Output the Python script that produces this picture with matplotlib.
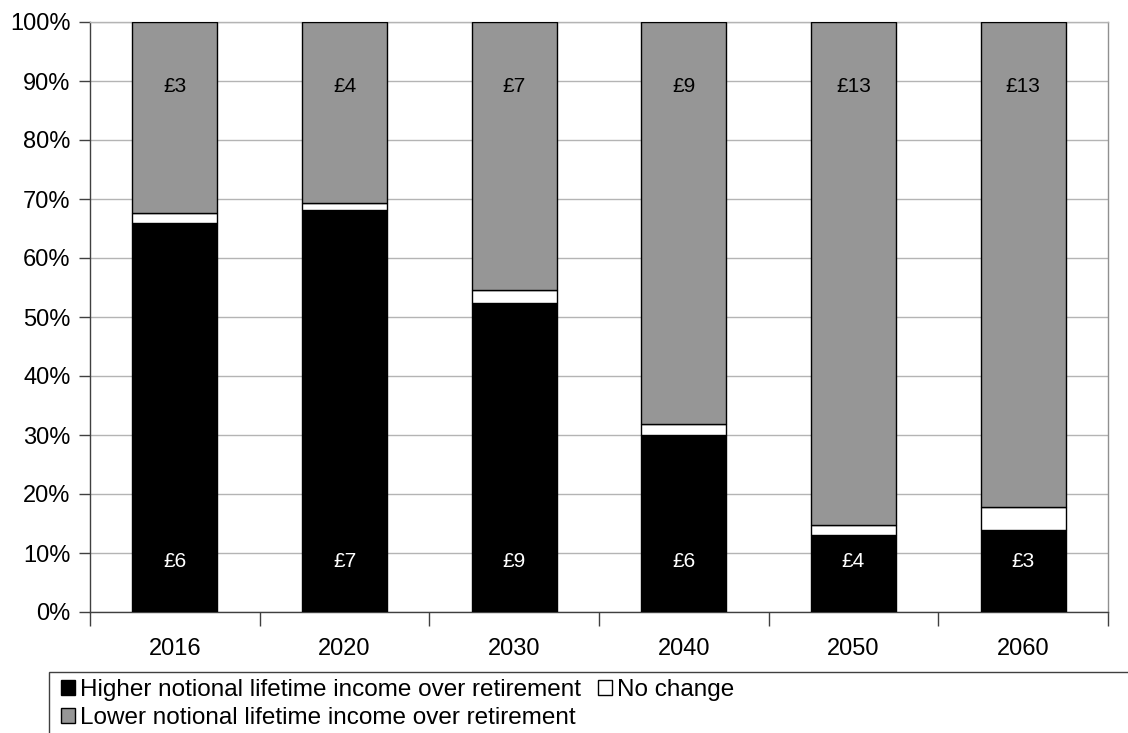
import matplotlib
matplotlib.use("Agg")
import matplotlib.pyplot as plt
from matplotlib.patches import Rectangle, Patch
import numpy as np

years = ["2016", "2020", "2030", "2040", "2050", "2060"]
higher = [66.0, 68.1, 52.3, 30.0, 13.0, 13.9]
no_change = [1.7, 1.2, 2.3, 1.9, 1.7, 3.9]
lower = [100 - h - n for h, n in zip(higher, no_change)]
higher_labels = ["£6", "£7", "£9", "£6", "£4", "£3"]
lower_labels = ["£3", "£4", "£7", "£9", "£13", "£13"]

plt.rcParams['font.family'] = ['Liberation Sans', 'DejaVu Sans']

W, H = 1128, 733
fig = plt.figure(figsize=(W / 100, H / 100), dpi=100)
ax = fig.add_axes([90 / W, 1 - 612 / H, (1108 - 90) / W, (612 - 22) / H])

x = np.arange(len(years))
grey = "#969696"
ax.bar(x, higher, width=0.5, color="black", edgecolor="black", linewidth=1, zorder=3)
ax.bar(x, no_change, width=0.5, bottom=higher, color="white", edgecolor="black", linewidth=1, zorder=3)
bot2 = [h + n for h, n in zip(higher, no_change)]
ax.bar(x, lower, width=0.5, bottom=bot2, color=grey, edgecolor="black", linewidth=1, zorder=3)

for i in range(len(years)):
    ax.text(x[i], 8.5, higher_labels[i], ha="center", va="center", color="white", fontsize=15, zorder=4)
    ax.text(x[i], 89.0, lower_labels[i], ha="center", va="center", color="black", fontsize=15, zorder=4)

ax.set_xlim(-0.5, len(years) - 0.5)
ax.set_ylim(0, 100)
ax.set_yticks(np.arange(0, 101, 10))
ax.set_yticklabels([f"{v}%" for v in range(0, 101, 10)], fontsize=17)
ax.yaxis.grid(True, color="#b4b4b4", linewidth=1, zorder=0)
ax.set_axisbelow(True)

ax.set_xticks(x)
ax.set_xticklabels(years, fontsize=17)
ax.tick_params(axis="x", length=0, pad=19)
ax.set_xticks(np.arange(-0.5, len(years)), minor=True)
ax.tick_params(axis="x", which="minor", length=10, width=1, color="#404040", direction="out")
ax.tick_params(axis="y", length=8, width=1, color="#404040", direction="out", pad=6)

ax.spines["left"].set_color("#404040")
ax.spines["bottom"].set_color("#404040")
ax.spines["right"].set_color("#909090")
ax.spines["top"].set_color("#b4b4b4")
for s in ax.spines.values():
    s.set_linewidth(1)

# legend frame extending off the right edge
fig.patches.append(Rectangle((49 / W, 1 - 745 / H), (1140 - 49) / W, (745 - 672) / H,
                             transform=fig.transFigure, fill=False, edgecolor="#404040",
                             linewidth=1, zorder=5))
handles = [Patch(facecolor="black", edgecolor="black"),
           Patch(facecolor=grey, edgecolor="black"),
           Patch(facecolor="white", edgecolor="black")]
labels = ["Higher notional lifetime income over retirement",
          "Lower notional lifetime income over retirement",
          "No change"]
fig.legend(handles, labels, ncol=2, frameon=False, fontsize=17.5,
           loc="upper left", bbox_to_anchor=(61 / W, 1 - 679 / H),
           handlelength=0.58, handleheight=0.58, handletextpad=0.2,
           columnspacing=0.7, labelspacing=0.25, borderpad=0, borderaxespad=0)

fig.savefig("out.png", dpi=100)
